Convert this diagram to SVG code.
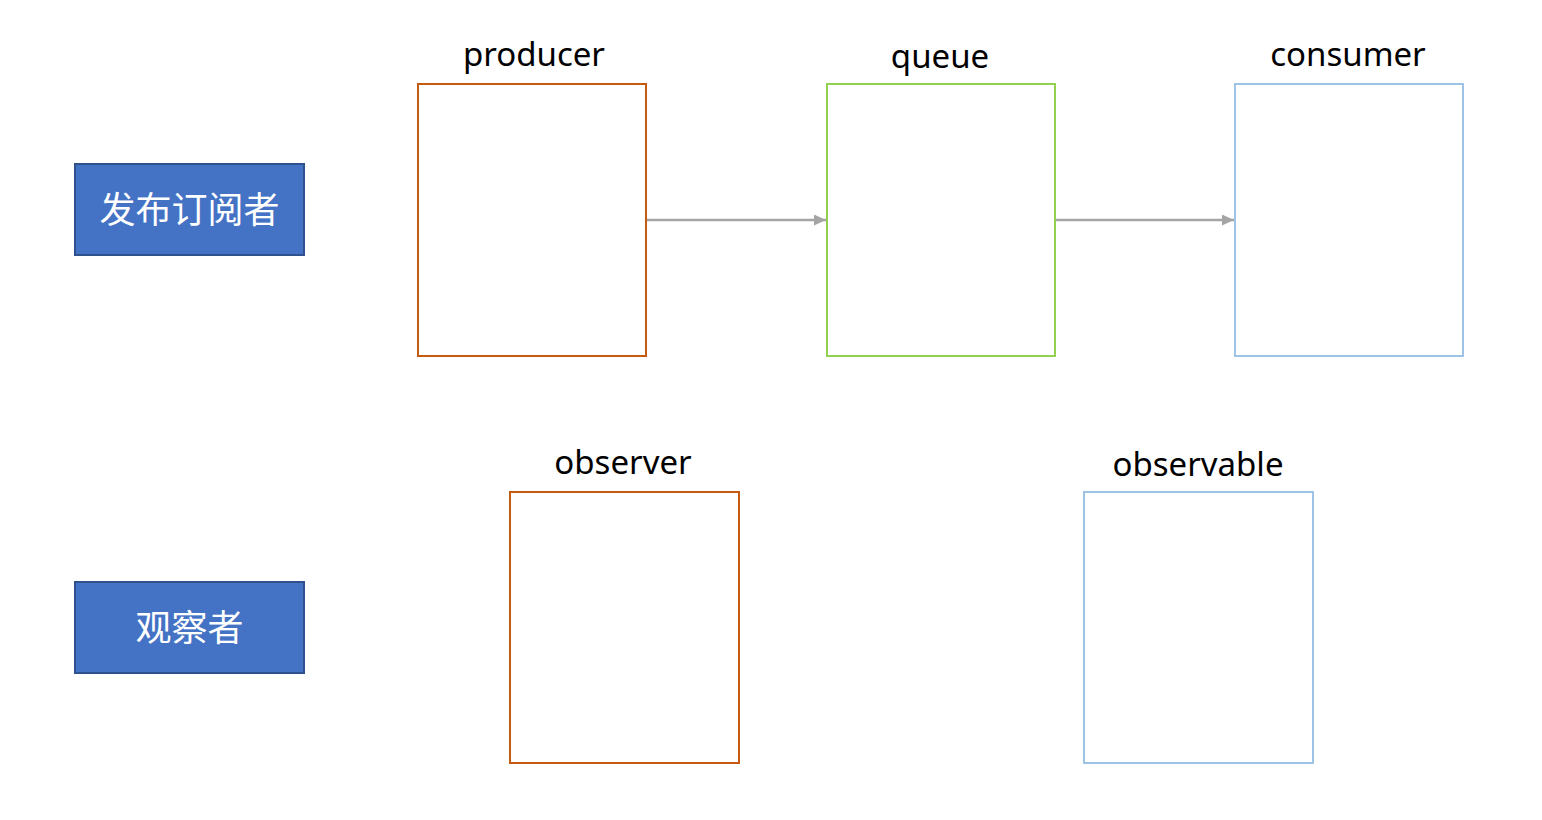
<svg xmlns="http://www.w3.org/2000/svg" width="1542" height="820" viewBox="0 0 1542 820">
<style>
.tag{fill:#4472C4;stroke:#2F528F;stroke-width:2}
.tagt{fill:#fff;font-family:"Noto Sans CJK SC","Noto Sans",sans-serif;font-size:36px;text-anchor:middle}
.lbl{fill:#000;font-family:"Noto Sans","Liberation Sans",sans-serif;font-size:33px;text-anchor:middle}
.o{fill:#fff;stroke:#C55A11;stroke-width:2}
.g{fill:#fff;stroke:#92D050;stroke-width:2}
.b{fill:#fff;stroke:#9DC3E6;stroke-width:2}
.c{stroke:#A5A5A5;stroke-width:2.5;fill:none;marker-end:url(#ah)}
</style>
<defs>
<marker id="ah" markerWidth="12" markerHeight="11" refX="12" refY="5.5" orient="auto" markerUnits="userSpaceOnUse">
<path d="M0,0 L12,5.5 L0,11 Z" fill="#A5A5A5"/>
</marker>
</defs>
<rect width="1542" height="820" fill="#fff"/>
<g id="pubsub">
<rect class="tag" x="75" y="164" width="229" height="91"/>
<text class="tagt" x="189.5" y="223">发布订阅者</text>
</g>
<g id="observerTag">
<rect class="tag" x="75" y="582" width="229" height="91"/>
<text class="tagt" x="189.5" y="641">观察者</text>
</g>
<g id="producer">
<text class="lbl" x="534" y="66">producer</text>
<rect class="o" x="418" y="84" width="228" height="272"/>
</g>
<g id="queue">
<text class="lbl" x="940" y="68">queue</text>
<rect class="g" x="827" y="84" width="228" height="272"/>
</g>
<g id="consumer">
<text class="lbl" x="1348" y="66">consumer</text>
<rect class="b" x="1235" y="84" width="228" height="272"/>
</g>
<g id="observer">
<text class="lbl" x="623" y="474">observer</text>
<rect class="o" x="510" y="492" width="229" height="271"/>
</g>
<g id="observable">
<text class="lbl" x="1198" y="476">observable</text>
<rect class="b" x="1084" y="492" width="229" height="271"/>
</g>
<g id="connectors">
<line class="c" x1="647" y1="220" x2="826" y2="220"/>
<line class="c" x1="1056" y1="220" x2="1234" y2="220"/>
</g>
</svg>
